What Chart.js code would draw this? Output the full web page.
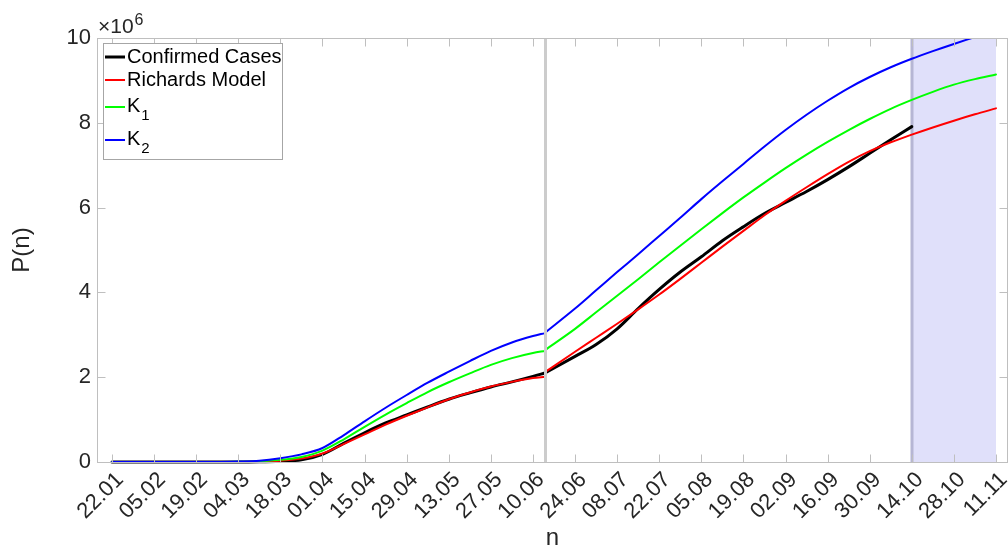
<!DOCTYPE html>
<html>
<head>
<meta charset="utf-8">
<script src="https://cdn.jsdelivr.net/npm/chart.js@4.4.1/dist/chart.umd.min.js"></script>
<style>
html, body { margin: 0; padding: 0; background: #fff; }
</style>
</head>
<body>
<canvas id="chart" width="1008" height="553"></canvas>
<script>
// x values are days since 22.01
const tickDays = [0,14,28,42,56,70,84,98,112,126,140,154,168,182,196,210,224,238,252,266,280,294];
const dateLabels = ['22.01','05.02','19.02','04.03','18.03','01.04','15.04','29.04','13.05','27.05','10.06',
                    '24.06','08.07','22.07','05.08','19.08','02.09','16.09','30.09','14.10','28.10','11.11'];

const splitDay = 144;      // 14.06, fit restarted here
const forecastStart = 266; // 14.10
const forecastEnd = 294;   // 11.11

const daysBefore = [0,7,14,21,28,35,42,49,56,63,70,77,84,91,98,105,112,119,126,133,140,144];
const daysAfter = [144,154,161,168,175,182,189,196,203,210,217,224,231,238,245,252,259,266,273,280,287,294];

// values in millions
const confirmedBefore = [0,0,0,0,0,0,0,0.005,0.02,0.05,0.18,0.44,0.69,0.92,1.11,1.30,1.48,1.63,1.77,1.89,2.02,2.10];
const confirmedAfter = [2.10,2.49,2.77,3.14,3.62,4.07,4.48,4.84,5.22,5.55,5.86,6.12,6.38,6.66,6.96,7.28,7.60,7.91,null,null,null,null];

const richardsBefore = [0,0,0,0,0,0,0.002,0.01,0.03,0.08,0.20,0.42,0.65,0.88,1.09,1.29,1.48,1.64,1.78,1.89,1.98,2.01];
const richardsAfter = [2.12,2.60,2.93,3.26,3.60,3.95,4.32,4.70,5.08,5.45,5.82,6.16,6.48,6.79,7.08,7.33,7.54,7.72,7.89,8.05,8.20,8.34];

const k1Before = [0,0,0,0,0,0,0.005,0.02,0.05,0.12,0.27,0.53,0.83,1.12,1.39,1.65,1.88,2.09,2.29,2.45,2.57,2.62];
const k1After = [2.64,3.14,3.53,3.92,4.31,4.71,5.10,5.49,5.87,6.24,6.59,6.93,7.25,7.55,7.83,8.09,8.33,8.54,8.73,8.90,9.03,9.14];

const k2Before = [0,0,0,0,0,0,0.01,0.03,0.09,0.18,0.33,0.63,0.96,1.28,1.58,1.87,2.13,2.38,2.62,2.82,2.97,3.04];
const k2After = [3.05,3.62,4.05,4.48,4.90,5.33,5.76,6.20,6.62,7.03,7.44,7.83,8.19,8.52,8.82,9.08,9.31,9.51,9.69,9.86,10.02,10.17];

const yTicks = [0,2,4,6,8,10];

const FONT = '"Liberation Sans", Arial, Helvetica, sans-serif';
const TEXT = '#262626';
const FRAME = '#bfbfbf';

function series(before, after) {
    let pts = daysBefore.map((d, i) => ({x: d, y: before[i]}));
    pts.push({x: splitDay, y: null}); // break between the two fits
    daysAfter.forEach((d, i) => pts.push({x: d, y: after[i]}));
    return pts;
}

function vline(ctx, px, top, bottom) {
    ctx.beginPath();
    ctx.moveTo(px, top);
    ctx.lineTo(px, bottom);
    ctx.stroke();
}

const framePlugin = {
    id: 'frame',
    beforeDatasetsDraw(chart) {
        const {ctx, chartArea: a, scales: {x}} = chart;
        const x0 = x.getPixelForValue(forecastStart);
        const x1 = x.getPixelForValue(forecastEnd);
        ctx.save();
        ctx.fillStyle = 'rgb(224,224,250)';
        ctx.fillRect(x0, a.top, x1 - x0, a.bottom - a.top);
        ctx.strokeStyle = 'rgb(182,182,212)';
        ctx.lineWidth = 3;
        vline(ctx, Math.round(x0), a.top, a.bottom);
        ctx.restore();
    },
    afterDatasetsDraw(chart) {
        const {ctx, chartArea: a, scales: {x, y}} = chart;
        ctx.save();
        ctx.strokeStyle = '#cccccc';
        ctx.lineWidth = 3;
        vline(ctx, Math.round(x.getPixelForValue(splitDay)) + 0.5, a.top, a.bottom);

        // box and inward ticks, matlab style
        ctx.strokeStyle = FRAME;
        ctx.lineWidth = 1;
        const L = Math.round(a.left) + 0.5, R = Math.round(a.right) - 0.5;
        const T = Math.round(a.top) + 0.5, B = Math.round(a.bottom) + 0.5;
        ctx.strokeRect(L, T, R - L, B - T);
        ctx.beginPath();
        tickDays.forEach(d => {
            const px = Math.round(x.getPixelForValue(d)) + 0.5;
            ctx.moveTo(px, B); ctx.lineTo(px, B - 8);
            ctx.moveTo(px, T); ctx.lineTo(px, T + 8);
        });
        yTicks.forEach(v => {
            const py = Math.round(y.getPixelForValue(v)) + 0.5;
            ctx.moveTo(L, py); ctx.lineTo(L + 8, py);
            ctx.moveTo(R, py); ctx.lineTo(R - 8, py);
        });
        ctx.stroke();
        ctx.restore();
    },
    afterDraw(chart) {
        const {ctx, chartArea: a} = chart;
        ctx.save();
        ctx.fillStyle = TEXT;
        ctx.textBaseline = 'alphabetic';
        ctx.font = '21px ' + FONT;
        ctx.fillText('×10', a.left + 1, a.top - 5);
        let w = ctx.measureText('×10').width;
        ctx.font = '16px ' + FONT;
        ctx.fillText('6', a.left + w + 2, a.top - 13);

        // legend box
        const bx = 103.5, by = 43.5, bw = 179, bh = 116;
        ctx.fillStyle = '#fff';
        ctx.fillRect(bx, by, bw, bh);
        ctx.strokeStyle = '#a6a6a6';
        ctx.lineWidth = 1;
        ctx.strokeRect(bx, by, bw, bh);
        const rows = [57, 80, 107, 140];
        const subs = '₀₁₂₃₄₅₆₇₈₉';
        chart.data.datasets.forEach((ds, i) => {
            const ry = rows[i];
            ctx.strokeStyle = ds.borderColor;
            ctx.lineWidth = ds.borderWidth;
            ctx.beginPath();
            ctx.moveTo(105, ry);
            ctx.lineTo(125, ry);
            ctx.stroke();
            ctx.fillStyle = '#000';
            ctx.textBaseline = 'middle';
            ctx.font = '20px ' + FONT;
            let label = ds.label;
            let last = label.slice(-1);
            if (subs.indexOf(last) >= 0) {
                let base = label.slice(0, -1);
                ctx.fillText(base, 127, ry - 1);
                let bw2 = ctx.measureText(base).width;
                ctx.font = '15px ' + FONT;
                ctx.fillText(String(subs.indexOf(last)), 127 + bw2 + 1, ry + 9);
            } else {
                ctx.fillText(label, 127, ry);
            }
        });
        ctx.restore();
    }
};

new Chart(document.getElementById('chart'), {
    type: 'line',
    data: {
        datasets: [
            {label: 'Confirmed Cases', data: series(confirmedBefore, confirmedAfter), borderColor: '#000000', borderWidth: 3, order: 3},
            {label: 'Richards Model', data: series(richardsBefore, richardsAfter), borderColor: '#ff0000', borderWidth: 2, order: 2},
            {label: 'K₁', data: series(k1Before, k1After), borderColor: '#00ff00', borderWidth: 2, order: 1},
            {label: 'K₂', data: series(k2Before, k2After), borderColor: '#0000ff', borderWidth: 2, order: 0}
        ]
    },
    options: {
        responsive: false,
        animation: false,
        layout: {padding: {top: 38, right: 0, left: 0, bottom: 0}},
        elements: {
            point: {radius: 0},
            line: {cubicInterpolationMode: 'monotone', fill: false, borderCapStyle: 'round'}
        },
        datasets: {line: {spanGaps: false, clip: {left: 0, top: 0, right: 0, bottom: 4}}},
        plugins: {legend: {display: false}, tooltip: {enabled: false}},
        scales: {
            x: {
                type: 'linear',
                min: -5,
                max: 298,
                grid: {display: false, drawTicks: false},
                border: {display: false},
                afterBuildTicks(scale) {
                    scale.ticks = tickDays.map(d => ({value: d}));
                },
                afterFit(scale) {
                    scale.height = 91;
                    scale.paddingLeft = 0;
                    scale.paddingRight = 0;
                },
                ticks: {
                    autoSkip: false,
                    minRotation: 45,
                    maxRotation: 45,
                    padding: 5,
                    labelOffset: 8,
                    color: TEXT,
                    font: {family: FONT, size: 22},
                    callback: (v) => dateLabels[tickDays.indexOf(v)]
                },
                title: {display: true, text: 'n', color: TEXT, font: {family: FONT, size: 24}, padding: {top: 0, bottom: 0}}
            },
            y: {
                min: 0,
                max: 10,
                grid: {display: false, drawTicks: false},
                border: {display: false},
                afterFit(scale) { scale.width = 97; },
                ticks: {
                    stepSize: 2,
                    padding: 6,
                    color: TEXT,
                    font: {family: FONT, size: 22}
                },
                title: {display: true, text: 'P(n)', color: TEXT, font: {family: FONT, size: 24}, padding: {top: 8, bottom: 0}}
            }
        }
    },
    plugins: [framePlugin]
});
</script>
</body>
</html>
